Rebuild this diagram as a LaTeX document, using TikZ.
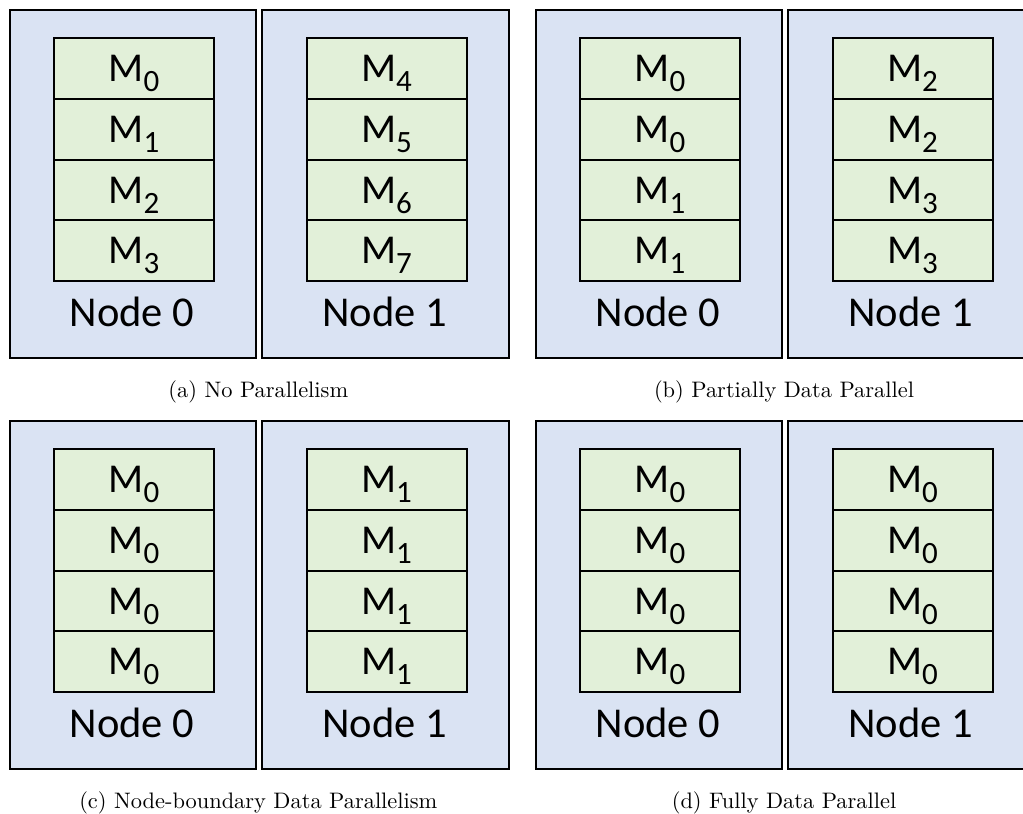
\documentclass[tikz,border=0pt]{standalone}
\usepackage{fontspec}
\usepackage{graphicx}
\newfontfamily\calib{Carlito}
\definecolor{nodeblue}{HTML}{DAE3F3}
\definecolor{cellgreen}{HTML}{E2F0D9}
\newcommand\Msub[1]{M\raisebox{-10pt}{\fontsize{31}{31}\selectfont #1}}
\newcommand\captxt[1]{\scalebox{2.24}{\fontsize{10}{12}\selectfont #1}}
\tikzset{
  outerbox/.style={draw=black, line width=2.4pt, fill=nodeblue, minimum width=246.5pt, minimum height=347.5pt, inner sep=0pt, anchor=north west},
  cellbox/.style={draw=black, line width=2pt, fill=cellgreen, minimum width=160pt, minimum height=60.75pt, inner sep=0pt, anchor=north west},
  celltext/.style={font=\calib\fontsize{41}{41}\selectfont, anchor=base, inner sep=0pt},
  nodetext/.style={font=\calib\fontsize{42.5}{42.5}\selectfont, anchor=base, inner sep=0pt},
  captext/.style={anchor=base, inner sep=0pt},
}
% #1 name, #2 x, #3 y, #4 label, #5 subscripts
\newcommand\drawmachine[5]{%
  \node[outerbox] (#1) at (#2,#3) {};
  \node[nodetext] (#1-lab) at (#2+123.5,#3+317) {#4};
  \foreach \s [count=\i from 0] in {#5} {
    \node[cellbox] (#1-c\i) at (#2+44.5,#3+28+\i*60.75) {};
    \node[celltext] (#1-t\i) at ([yshift=-44.7pt]#1-c\i.north) {\Msub{\s}};
  }
}
\begin{document}
\begin{tikzpicture}[x=1pt,y=-1pt]
\useasboundingbox (0,0) rectangle (1023,814);
\clip (0,0) rectangle (1023,814);
% (a)
\drawmachine{a0}{8.5}{9}{Node 0}{0,1,2,3}
\drawmachine{a1}{261}{9}{Node 1}{4,5,6,7}
\node[captext] (capa) at (258.3,397) {\captxt{(a) No Parallelism}};
% (b)
\drawmachine{b0}{534.5}{9}{Node 0}{0,0,1,1}
\drawmachine{b1}{787}{9}{Node 1}{2,2,3,3}
\node[captext] (capb) at (784,397) {\captxt{(b) Partially Data Parallel}};
% (c)
\drawmachine{c0}{8.5}{420}{Node 0}{0,0,0,0}
\drawmachine{c1}{261}{420}{Node 1}{1,1,1,1}
\node[captext] (capc) at (258.3,808) {\captxt{(c) Node-boundary Data Parallelism}};
% (d)
\drawmachine{d0}{534.5}{420}{Node 0}{0,0,0,0}
\drawmachine{d1}{787}{420}{Node 1}{0,0,0,0}
\node[captext] (capd) at (784,808) {\captxt{(d) Fully Data Parallel}};
\end{tikzpicture}
\end{document}
